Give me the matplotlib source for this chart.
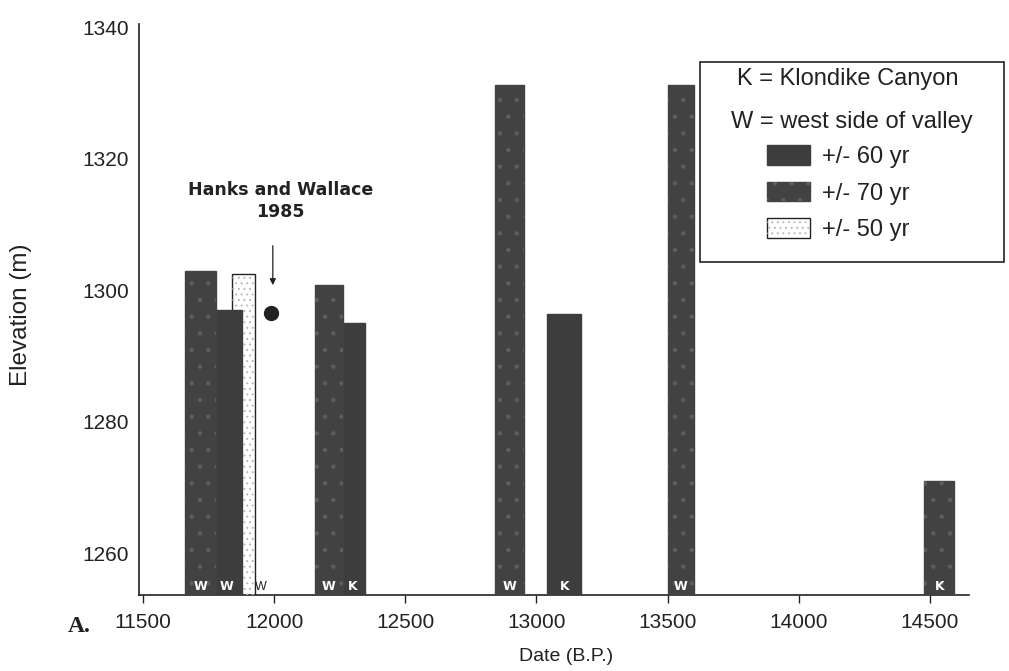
import matplotlib
matplotlib.use("Agg")
import matplotlib.pyplot as plt
from matplotlib.patches import Patch, Rectangle
from matplotlib.legend_handler import HandlerTuple

# Radiocarbon-dated deposits: date (yr B.P.), bar width (yr), top elevation (m)
dates = [11720, 11820, 11883, 12208, 12300, 12898, 13106, 13550, 14536]
widths = [116, 115, 87, 107, 90, 110, 129, 100, 114]
elevations = [1303.0, 1297.0, 1302.5, 1300.8, 1295.0, 1331.3, 1296.4, 1331.2, 1271.0]
sites = ["W", "W", "W", "W", "K", "W", "K", "W", "K"]
errors = [70, 60, 50, 70, 60, 70, 60, 70, 70]

# Hanks and Wallace (1985) estimate
hw_date = 11990
hw_elev = 1296.5

x_ticks = [11500, 12000, 12500, 13000, 13500, 14000, 14500]
y_ticks = [1260, 1280, 1300, 1320, 1340]
BASE = 1253.7
TOP = 1340.5

DARK = "#3d3d3d"
styles = {
    60: dict(face=DARK, edge=DARK, hatch=None, hatch_color=None),
    70: dict(face="#424242", edge="#424242", hatch=".", hatch_color="#5e5e5e"),
    50: dict(face="white", edge="#222222", hatch="...", hatch_color="#b8b8b8"),
}

plt.rcParams["font.family"] = ["Liberation Sans", "DejaVu Sans"]
plt.rcParams["hatch.linewidth"] = 0.7

W, H = 1009, 671
fig = plt.figure(figsize=(W / 100, H / 100), dpi=100)
ax = fig.add_axes([138.5 / W, 1 - 595 / H, (969 - 138.5) / W, (595 - 24) / H])

for d, w, e, s, er in zip(dates, widths, elevations, sites, errors):
    st = styles[er]
    z = 2 + er / 100
    ax.bar(d, e - BASE, width=w, bottom=BASE, color=st["face"],
           edgecolor=st["edge"], linewidth=1.0, zorder=z)
    if st["hatch"]:
        ax.bar(d, e - BASE, width=w, bottom=BASE, facecolor="none",
               edgecolor=st["hatch_color"], linewidth=0, hatch=st["hatch"],
               zorder=z + 0.001)
    if er == 50:
        ax.text(d + w / 2 + 2, BASE + 0.35, s, ha="left", va="bottom",
                fontsize=9, color="#222222", zorder=5)
    else:
        ax.text(d, BASE + 0.35, s, ha="center", va="bottom", fontsize=9,
                fontweight="bold", family="DejaVu Sans", color="white",
                zorder=5)

ax.plot([hw_date], [hw_elev], "o", color="#222222", markersize=10, zorder=5)
ax.annotate("", xy=(hw_date + 5, 1300.8), xytext=(hw_date + 5, 1306.8),
            arrowprops=dict(arrowstyle="-|>", lw=0.9, color="#222222",
                            mutation_scale=9, shrinkA=0, shrinkB=0))
ax.text(12025, 1313.6, "Hanks and Wallace\n1985", ha="center", va="center",
        fontsize=12.5, fontweight="bold", family="DejaVu Sans",
        linespacing=1.3, color="#222222")

ax.set_xlim(11483, 14649)
ax.set_ylim(BASE, TOP)
ax.set_xticks(x_ticks)
ax.set_yticks(y_ticks)
ax.tick_params(axis="x", direction="out", length=6, width=1, pad=7,
               labelsize=15, colors="#222222")
ax.tick_params(axis="y", length=0, pad=7, labelsize=15, colors="#222222")
for side in ("top", "right"):
    ax.spines[side].set_visible(False)
for side in ("left", "bottom"):
    ax.spines[side].set_linewidth(1.2)
    ax.spines[side].set_color("#222222")

ax.set_xlabel("Date (B.P.)", fontsize=14, color="#222222")
ax.xaxis.set_label_coords(0.515, -0.107)
ax.xaxis.label.set_va("center")
ax.set_ylabel("Elevation (m)", fontsize=17.5, color="#222222")
ax.yaxis.set_label_coords(-0.1415, 0.49)
ax.yaxis.label.set_va("center")

fig.text(79 / W, 1 - 626 / H, "A.", ha="center", va="center", fontsize=17,
         fontweight="bold", family="Liberation Serif", color="#222222")

# Legend: frame, site key and uncertainty key
fig.patches.append(Rectangle((700 / W, 1 - 262 / H), 304 / W, 200 / H,
                             transform=fig.transFigure, facecolor="white",
                             edgecolor="#222222", linewidth=1.2, zorder=1))
fig.text(848 / W, 1 - 79 / H, "K = Klondike Canyon", ha="center", va="center",
         fontsize=17, color="#222222")
fig.text(852 / W, 1 - 122 / H, "W = west side of valley", ha="center",
         va="center", fontsize=17, color="#222222")


def key(er):
    st = styles[er]
    base = Patch(facecolor=st["face"], edgecolor=st["edge"], linewidth=1.0)
    if st["hatch"]:
        over = Patch(facecolor="none", edgecolor=st["hatch_color"],
                     linewidth=0, hatch=st["hatch"])
        return (base, over)
    return (base,)


order = [60, 70, 50]
leg = fig.legend([key(er) for er in order], [f"+/- {er} yr" for er in order],
                 handler_map={tuple: HandlerTuple(ndivide=1, pad=0)},
                 loc="upper left", bbox_to_anchor=(767 / W, 1 - 145 / H),
                 frameon=False, fontsize=17, handlelength=1.8,
                 handleheight=0.9, handletextpad=0.55, labelspacing=0.58,
                 borderpad=0, borderaxespad=0)
for t in leg.get_texts():
    t.set_color("#222222")

fig.savefig("out.png", dpi=100)
